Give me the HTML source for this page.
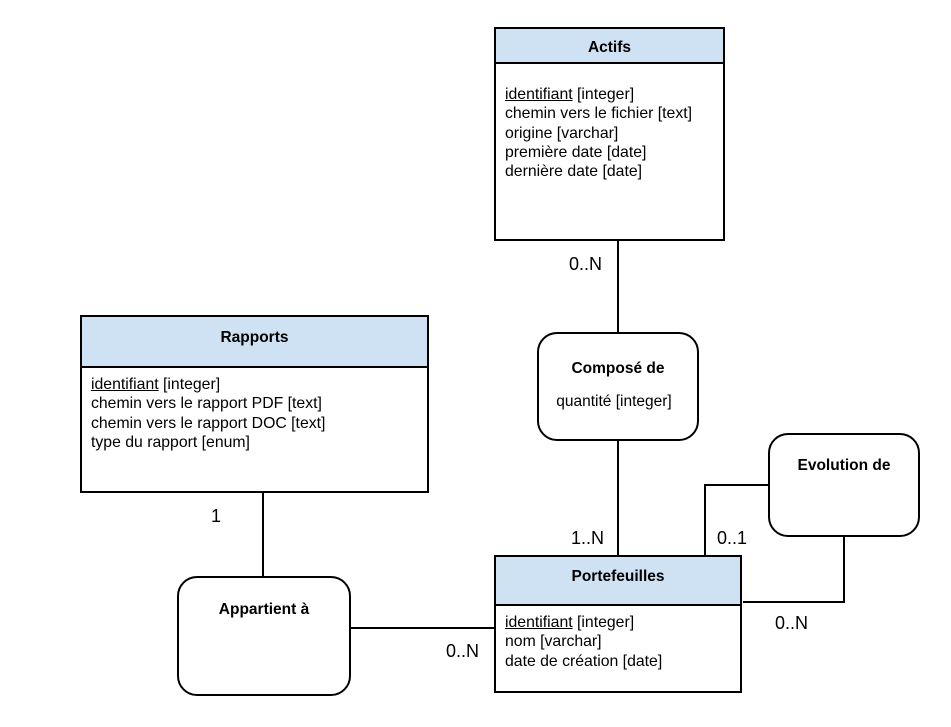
<!DOCTYPE html>
<html><head><meta charset="utf-8"><style>
body{margin:0;width:951px;height:727px;background:#fff;position:relative;font-family:"Liberation Sans",Arial,sans-serif;color:#000;overflow:hidden}
.b{position:absolute;border:2px solid #000;box-sizing:border-box;background:#fff}
.h{background:#cfe2f3;border-bottom:2px solid #000;box-sizing:border-box;font-weight:bold;font-size:15.5px;text-align:center}
.at{font-size:15.8px;line-height:19.3px;padding-left:9px;padding-top:10px;white-space:nowrap}
.r{position:absolute;border:2px solid #000;border-radius:20px;box-sizing:border-box;background:#fff;text-align:center;font-size:15.5px}
.l{position:absolute;background:#000}
.t{position:absolute;font-size:18px}
u{text-decoration:underline}
</style></head><body>
<div class="l" style="left:617px;top:240px;width:2px;height:92px"></div>
<div class="l" style="left:617px;top:440px;width:2px;height:116px"></div>
<div class="l" style="left:262px;top:492px;width:2px;height:84px"></div>
<div class="l" style="left:350px;top:627px;width:145px;height:2px"></div>
<div class="l" style="left:704px;top:484px;width:64px;height:2px"></div>
<div class="l" style="left:704px;top:484px;width:2px;height:72px"></div>
<div class="l" style="left:843px;top:536px;width:2px;height:67px"></div>
<div class="l" style="left:743px;top:601px;width:102px;height:2px"></div>

<div class="b" style="left:494px;top:27px;width:231px;height:214px">
<div class="h" style="height:35px;line-height:38px">Actifs</div>
<div class="at" style="padding-top:21px"><u>identifiant</u> [integer]<br>chemin vers le fichier [text]<br>origine [varchar]<br>première date [date]<br>dernière date [date]</div></div>

<div class="b" style="left:80px;top:315px;width:349px;height:178px">
<div class="h" style="height:51px;line-height:42px">Rapports</div>
<div class="at" style="padding-top:7px"><u>identifiant</u> [integer]<br>chemin vers le rapport PDF [text]<br>chemin vers le rapport DOC [text]<br>type du rapport [enum]</div></div>

<div class="b" style="left:494px;top:555px;width:248px;height:138px">
<div class="h" style="height:49px;line-height:40px">Portefeuilles</div>
<div class="at" style="padding-top:7px"><u>identifiant</u> [integer]<br>nom [varchar]<br>date de création [date]</div></div>

<div class="r" style="left:537px;top:332px;width:162px;height:109px"><div style="font-weight:bold;margin-top:26px">Composé de</div><div style="margin-top:15px;margin-right:8px">quantité [integer]</div></div>
<div class="r" style="left:768px;top:433px;width:152px;height:104px"><div style="font-weight:bold;margin-top:22px">Evolution de</div></div>
<div class="r" style="left:177px;top:576px;width:174px;height:120px"><div style="font-weight:bold;margin-top:23px">Appartient à</div></div>

<div class="t" style="left:569px;top:254px">0..N</div>
<div class="t" style="left:571px;top:528px">1..N</div>
<div class="t" style="left:717px;top:528px">0..1</div>
<div class="t" style="left:775px;top:613px">0..N</div>
<div class="t" style="left:211px;top:506px">1</div>
<div class="t" style="left:446px;top:641px">0..N</div>
</body></html>
